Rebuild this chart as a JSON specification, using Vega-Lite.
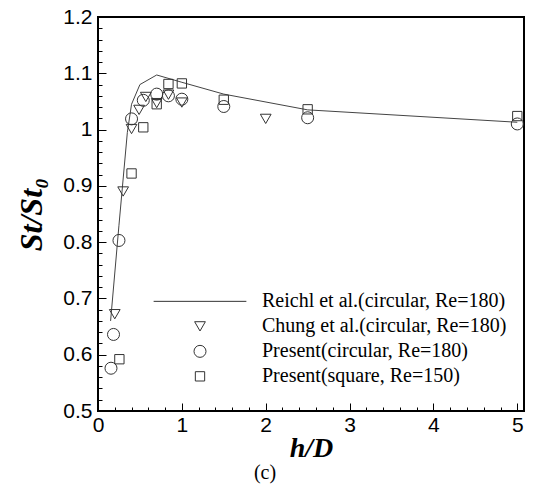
{
  "$schema": "https://vega.github.io/schema/vega-lite/v6.json",
  "width": 426,
  "height": 394,
  "autosize": {"type": "none"},
  "padding": {"left": 98, "top": 17, "right": 9, "bottom": 78},
  "title": {
    "text": "(c)",
    "orient": "bottom",
    "anchor": "middle",
    "dx": -46,
    "offset": 1,
    "font": "Liberation Serif",
    "fontSize": 20,
    "fontWeight": "normal",
    "color": "black"
  },
  "config": {
    "view": {"stroke": "black", "strokeWidth": 2},
    "axis": {
      "grid": false,
      "domain": false,
      "ticks": true,
      "tickColor": "black",
      "tickWidth": 1,
      "tickOpacity": 1,
      "zindex": 1,
      "labelFont": "Liberation Sans",
      "labelFontSize": 21,
      "labelColor": "black",
      "labelOverlap": false,
      "labelFlush": false,
      "titleFont": "Liberation Serif",
      "titleFontWeight": "bold",
      "titleFontStyle": "italic",
      "titleColor": "black"
    }
  },
  "data": {
    "values": [
      {"series": "Reichl et al.(circular, Re=180)", "hD": 0.15, "St": 0.66},
      {"series": "Reichl et al.(circular, Re=180)", "hD": 0.25, "St": 0.83},
      {"series": "Reichl et al.(circular, Re=180)", "hD": 0.35, "St": 0.995},
      {"series": "Reichl et al.(circular, Re=180)", "hD": 0.4, "St": 1.045},
      {"series": "Reichl et al.(circular, Re=180)", "hD": 0.5, "St": 1.08},
      {"series": "Reichl et al.(circular, Re=180)", "hD": 0.7, "St": 1.097},
      {"series": "Reichl et al.(circular, Re=180)", "hD": 1.0, "St": 1.084},
      {"series": "Reichl et al.(circular, Re=180)", "hD": 1.5, "St": 1.063},
      {"series": "Reichl et al.(circular, Re=180)", "hD": 2.5, "St": 1.035},
      {"series": "Reichl et al.(circular, Re=180)", "hD": 5.0, "St": 1.013},

      {"series": "Chung et al.(circular, Re=180)", "hD": 0.2, "St": 0.672},
      {"series": "Chung et al.(circular, Re=180)", "hD": 0.3, "St": 0.89},
      {"series": "Chung et al.(circular, Re=180)", "hD": 0.4, "St": 1.001},
      {"series": "Chung et al.(circular, Re=180)", "hD": 0.49, "St": 1.035},
      {"series": "Chung et al.(circular, Re=180)", "hD": 0.57, "St": 1.058},
      {"series": "Chung et al.(circular, Re=180)", "hD": 0.7, "St": 1.047},
      {"series": "Chung et al.(circular, Re=180)", "hD": 0.84, "St": 1.062},
      {"series": "Chung et al.(circular, Re=180)", "hD": 1.0, "St": 1.048},
      {"series": "Chung et al.(circular, Re=180)", "hD": 2.0, "St": 1.019},

      {"series": "Present(circular, Re=180)", "hD": 0.155, "St": 0.576},
      {"series": "Present(circular, Re=180)", "hD": 0.185, "St": 0.636},
      {"series": "Present(circular, Re=180)", "hD": 0.25, "St": 0.803},
      {"series": "Present(circular, Re=180)", "hD": 0.4, "St": 1.019},
      {"series": "Present(circular, Re=180)", "hD": 0.54, "St": 1.052},
      {"series": "Present(circular, Re=180)", "hD": 0.7, "St": 1.063},
      {"series": "Present(circular, Re=180)", "hD": 0.84, "St": 1.06},
      {"series": "Present(circular, Re=180)", "hD": 1.0, "St": 1.054},
      {"series": "Present(circular, Re=180)", "hD": 1.5, "St": 1.041},
      {"series": "Present(circular, Re=180)", "hD": 2.5, "St": 1.021},
      {"series": "Present(circular, Re=180)", "hD": 5.0, "St": 1.01},

      {"series": "Present(square, Re=150)", "hD": 0.255, "St": 0.592},
      {"series": "Present(square, Re=150)", "hD": 0.4, "St": 0.922},
      {"series": "Present(square, Re=150)", "hD": 0.54, "St": 1.004},
      {"series": "Present(square, Re=150)", "hD": 0.7, "St": 1.045},
      {"series": "Present(square, Re=150)", "hD": 0.84, "St": 1.081},
      {"series": "Present(square, Re=150)", "hD": 1.0, "St": 1.082},
      {"series": "Present(square, Re=150)", "hD": 1.5, "St": 1.053},
      {"series": "Present(square, Re=150)", "hD": 2.5, "St": 1.036},
      {"series": "Present(square, Re=150)", "hD": 5.0, "St": 1.024}
    ]
  },
  "resolve": {"axis": {"x": "independent", "y": "independent"}},
  "layer": [
    {
      "transform": [{"filter": "datum.series === 'Reichl et al.(circular, Re=180)'"}],
      "mark": {"type": "line", "color": "#444", "strokeWidth": 1},
      "encoding": {
        "x": {
          "field": "hD",
          "type": "quantitative",
          "scale": {"domain": [0, 5.08], "nice": false, "zero": false},
          "axis": {
            "orient": "bottom",
            "offset": -8,
            "tickSize": 8,
            "title": "h/D",
            "titleFontSize": 28,
            "titlePadding": -1,
            "values": [0, 1, 2, 3, 4, 5],
            "format": "d",
            "labelPadding": 3
          }
        },
        "y": {
          "field": "St",
          "type": "quantitative",
          "scale": {"domain": [0.5, 1.2], "nice": false, "zero": false},
          "axis": {
            "orient": "left",
            "offset": -8,
            "tickSize": 8,
            "title": "St/St₀",
            "titleFontSize": 32,
            "titlePadding": 14,
            "values": [0.5, 0.6, 0.7, 0.8, 0.9, 1, 1.1, 1.2],
            "format": "~g",
            "labelPadding": 6
          }
        }
      }
    },
    {
      "transform": [{"filter": "datum.series !== 'Reichl et al.(circular, Re=180)'"}],
      "mark": {"type": "point", "filled": false, "color": "#333", "strokeWidth": 1, "opacity": 1},
      "encoding": {
        "x": {
          "field": "hD",
          "type": "quantitative",
          "axis": {
            "orient": "bottom",
            "offset": -4,
            "tickSize": 4,
            "title": null,
            "labels": false,
            "values": [0.2, 0.4, 0.6, 0.8, 1.2, 1.4, 1.6, 1.8, 2.2, 2.4, 2.6, 2.8, 3.2, 3.4, 3.6, 3.8, 4.2, 4.4, 4.6, 4.8]
          }
        },
        "y": {
          "field": "St",
          "type": "quantitative",
          "axis": {
            "orient": "left",
            "offset": -4,
            "tickSize": 4,
            "title": null,
            "labels": false,
            "values": [0.52, 0.54, 0.56, 0.58, 0.62, 0.64, 0.66, 0.68, 0.72, 0.74, 0.76, 0.78, 0.82, 0.84, 0.86, 0.88, 0.92, 0.94, 0.96, 0.98, 1.02, 1.04, 1.06, 1.08, 1.12, 1.14, 1.16, 1.18]
          }
        },
        "shape": {
          "field": "series",
          "type": "nominal",
          "scale": {
            "domain": ["Reichl et al.(circular, Re=180)", "Chung et al.(circular, Re=180)", "Present(circular, Re=180)", "Present(square, Re=150)"],
            "range": ["stroke", "triangle-down", "circle", "square"]
          },
          "legend": {
            "title": null,
            "orient": "none",
            "legendX": 55,
            "legendY": 272,
            "padding": 0,
            "rowPadding": 0,
            "clipHeight": 24.7,
            "labelFont": "Liberation Serif",
            "labelFontSize": 20,
            "labelColor": "black",
            "labelLimit": 0,
            "labelOffset": 15,
            "symbolStrokeColor": "#333",
            "symbolStrokeWidth": 1
          }
        },
        "size": {
          "field": "series",
          "type": "nominal",
          "scale": {
            "type": "ordinal",
            "domain": ["Reichl et al.(circular, Re=180)", "Chung et al.(circular, Re=180)", "Present(circular, Re=180)", "Present(square, Re=150)"],
            "range": [8600, 115, 144, 87]
          },
          "legend": {
            "title": null,
            "orient": "none",
            "legendX": 55,
            "legendY": 272,
            "padding": 0,
            "rowPadding": 0,
            "clipHeight": 24.7,
            "labelFont": "Liberation Serif",
            "labelFontSize": 20,
            "labelColor": "black",
            "labelLimit": 0,
            "labelOffset": 15,
            "symbolStrokeColor": "#333",
            "symbolStrokeWidth": 1
          }
        }
      }
    }
  ]
}
